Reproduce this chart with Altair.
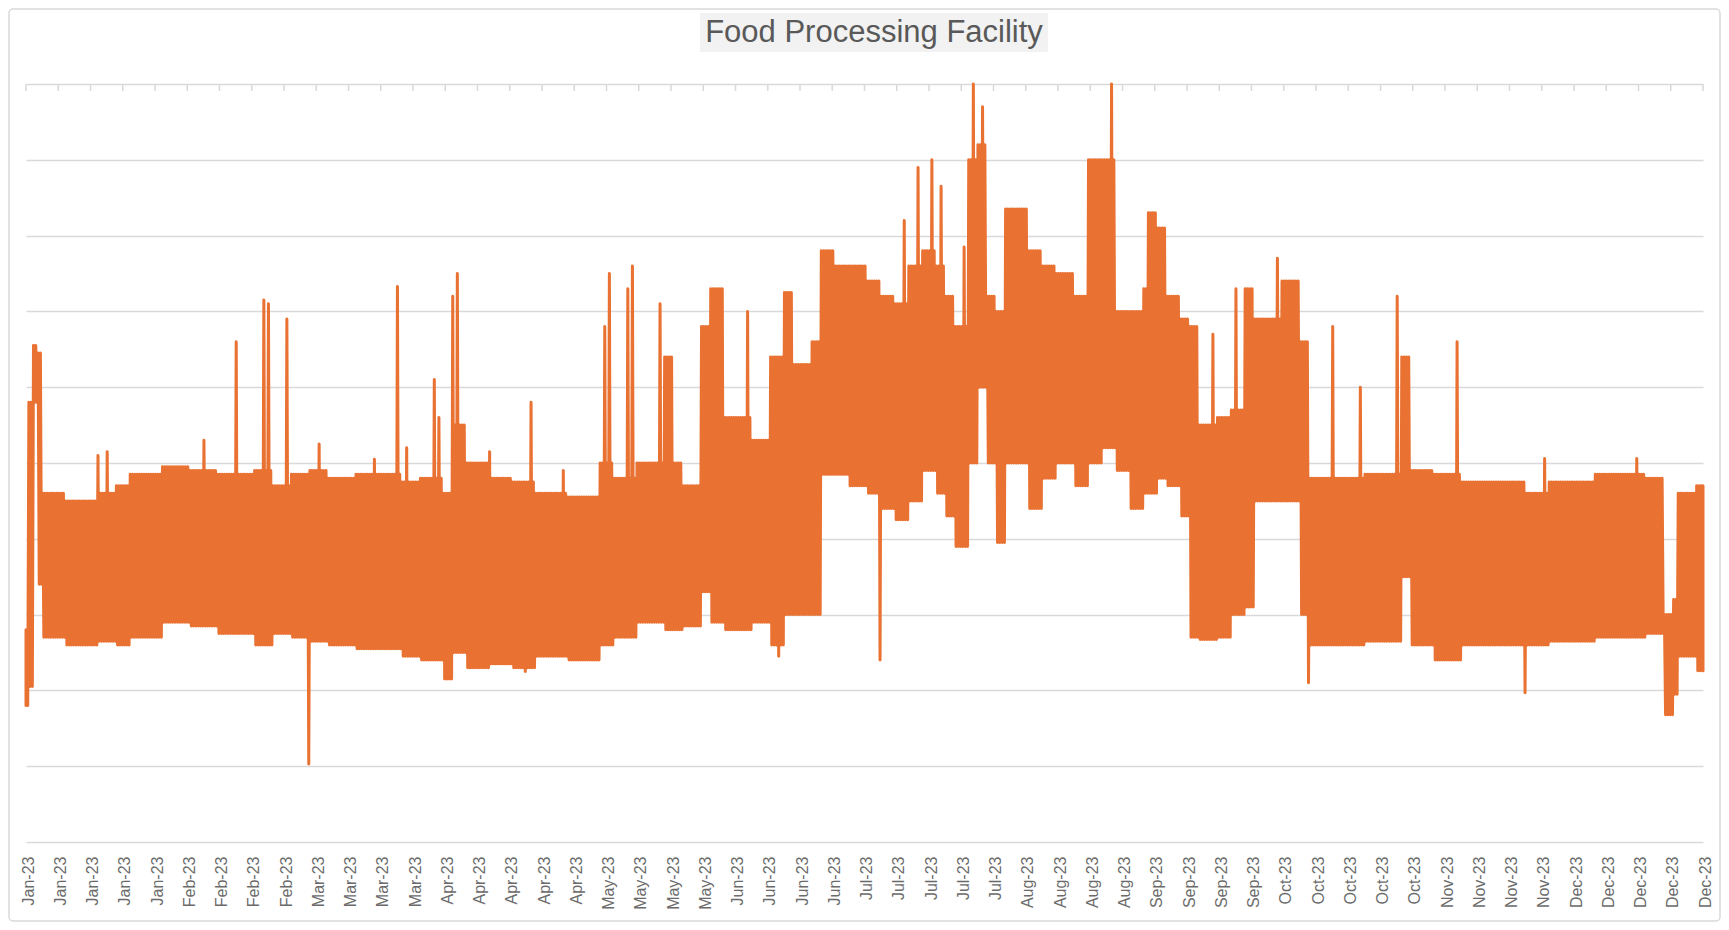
import json
import altair as alt
import pandas as pd

# ---- data (units: gridline steps, 0 = bottom line, 10 = top line) ----
# envelope segments: start day (0 = 1 Jan 2023), daily high, daily low
seg_day = [0, 1, 2, 3, 4, 9, 16, 20, 23, 30, 36, 42, 50, 54, 58, 62, 66, 72, 82, 86,
           91, 93, 96, 101, 106, 111, 118, 125, 128, 133, 139, 141, 143, 147, 149, 152,
           158, 162, 165, 167, 171, 173, 176, 179, 183, 186, 189, 192, 195, 198, 200,
           202, 205, 207, 209, 211, 213, 218, 221, 224, 228, 231, 234, 237, 240, 243,
           244, 246, 248, 251, 253, 255, 259, 262, 265, 267, 273, 277, 279, 286, 291,
           299, 301, 306, 312, 326, 331, 341, 352, 356, 358, 359, 363]
seg_hi = [2.8, 5.8, 6.55, 6.45, 4.6, 4.5, 4.6, 4.7, 4.85, 4.95, 4.9, 4.85, 4.9, 4.7,
          4.85, 4.9, 4.8, 4.85, 4.75, 4.8, 4.6, 5.5, 5.0, 4.8, 4.75, 4.6, 4.55, 5.0, 4.8,
          5.0, 6.4, 5.0, 4.7, 6.8, 7.3, 5.6, 5.3, 6.4, 7.25, 6.3, 6.6, 7.8, 7.6, 7.6,
          7.4, 7.2, 7.1, 7.6, 7.8, 7.6, 7.2, 6.8, 9.0, 9.2, 7.2, 7.0, 8.35, 7.8, 7.6,
          7.5, 7.2, 9.0, 9.0, 7.0, 7.0, 7.3, 8.3, 8.1, 7.2, 6.9, 6.8, 5.5, 5.6, 5.7,
          7.3, 6.9, 7.4, 6.6, 4.8, 4.8, 4.85, 6.4, 4.9, 4.85, 4.75, 4.6, 4.75, 4.85,
          4.8, 3.0, 3.2, 4.6, 4.7]
seg_lo = [1.8, 2.05, 5.8, 3.4, 2.7, 2.6, 2.65, 2.6, 2.7, 2.9, 2.85, 2.75, 2.6, 2.75,
          2.7, 2.65, 2.6, 2.55, 2.45, 2.4, 2.15, 2.5, 2.3, 2.35, 2.3, 2.45, 2.4, 2.6,
          2.7, 2.9, 2.8, 2.8, 2.85, 3.3, 2.9, 2.8, 2.9, 2.6, 3.0, 3.0, 3.0, 4.85, 4.85,
          4.7, 4.6, 4.4, 4.25, 4.5, 4.9, 4.6, 4.3, 3.9, 5.0, 6.0, 5.0, 3.95, 5.0, 4.4,
          4.8, 5.0, 4.7, 5.0, 5.2, 4.9, 4.4, 4.6, 4.6, 4.8, 4.7, 4.3, 2.7, 2.67, 2.7,
          3.0, 3.1, 4.5, 4.5, 3.0, 2.6, 2.6, 2.65, 3.5, 2.6, 2.4, 2.6, 2.6, 2.65, 2.7,
          2.75, 1.68, 1.95, 2.45, 2.26]
# single-day excursions
spike_day = [16, 18, 39, 46, 52, 53, 57, 61, 64, 76, 81, 83, 89, 90, 93, 94, 101, 108,
             110, 117, 126, 127, 131, 132, 138, 157, 163, 185, 191, 194, 197, 199, 204,
             206, 208, 236, 258, 263, 272, 278, 284, 290, 298, 311, 325, 330, 350]
spike_val = [5.1, 5.15, 5.3, 6.6, 7.15, 7.1, 6.9, 1.03, 5.25, 5.05, 7.33, 5.2, 6.1, 5.6,
             7.2, 7.5, 5.15, 2.25, 5.8, 4.9, 6.8, 7.5, 7.3, 7.6, 7.1, 7.0, 2.45, 2.4,
             8.2, 8.9, 9.0, 8.65, 7.85, 10.0, 9.7, 10.0, 6.7, 7.3, 7.7, 2.1, 6.8, 6.0,
             7.2, 6.6, 1.97, 5.06, 5.06]

tick_days = list(range(0, 365, 7))
tick_labels = (["Jan-23"] * 5 + ["Feb-23"] * 4 + ["Mar-23"] * 4 + ["Apr-23"] * 5 +
               ["May-23"] * 4 + ["Jun-23"] * 4 + ["Jul-23"] * 5 + ["Aug-23"] * 4 +
               ["Sep-23"] * 4 + ["Oct-23"] * 5 + ["Nov-23"] * 4 + ["Dec-23"] * 5)
grid_values = list(range(0, 11))
title_text = "Food Processing Facility"

# ---- build the swing series: two high/low swings per day ----
rows = []
for d in range(365):
    i = max(k for k, s in enumerate(seg_day) if s <= d)
    hi, lo = seg_hi[i], seg_lo[i]
    hi1, lo2 = hi, lo
    for sd, sv in zip(spike_day, spike_val):
        if sd == d:
            if sv > hi:
                hi1 = sv
            elif sv < lo:
                lo2 = sv
    for off, v in ((-0.375, hi1), (-0.125, lo), (0.125, hi), (0.375, lo2)):
        rows.append({"day": min(364.0, max(0.0, d + off)), "val": v})
df = pd.DataFrame(rows)
ticks_df = pd.DataFrame({"day": tick_days})

W, H = 1677, 758
GRID = "#d9d9d9"
TXT = "#595959"
LBL = "#6b6b6b"
FONT = "Liberation Sans"

label_expr = json.dumps(tick_labels) + "[round(datum.value / 7)]"
xscale = alt.Scale(domain=[0, 364], nice=False, zero=False)
xaxis = alt.Axis(values=tick_days, labelExpr=label_expr, labelAngle=-90,
                 labelFontSize=16, labelFont=FONT, labelColor=LBL, labelPadding=14,
                 labelOffset=2, ticks=False, domain=False, grid=False, title=None,
                 labelOverlap=False, labelFlush=False)
xenc = alt.X("day:Q", scale=xscale, axis=xaxis)

one = alt.Data(values=[{"k": 1}])

border = alt.Chart(one).mark_rect(filled=False, stroke=GRID, strokeWidth=1.5,
                                  cornerRadius=4).encode(
    x=alt.value(-17), x2=alt.value(W + 17), y=alt.value(-75), y2=alt.value(H + 79))

title_bg = alt.Chart(one).mark_rect(color="#f2f2f2").encode(
    x=alt.value(674), x2=alt.value(1022), y=alt.value(-71), y2=alt.value(-32))

title = alt.Chart(one).mark_text(text=title_text, font=FONT, fontSize=31, color=TXT,
                                 align="center", baseline="alphabetic").encode(
    x=alt.value(848), y=alt.value(-42))

tick_marks = alt.Chart(ticks_df).mark_rule(color=GRID, strokeWidth=1.5).encode(
    x=xenc, y=alt.value(0), y2=alt.value(7))

line = alt.Chart(df).mark_line(color="#E97132", strokeWidth=3, strokeJoin="round",
                               strokeCap="round").encode(
    x=xenc,
    y=alt.Y("val:Q", scale=alt.Scale(domain=[0, 10], nice=False, zero=False),
            axis=alt.Axis(values=grid_values, grid=True, gridColor=GRID, gridWidth=1.5,
                          labels=False, ticks=False, domain=False, title=None)))

chart = alt.layer(border, title_bg, title, tick_marks, line).properties(
    width=W, height=H,
    padding={"left": 18, "top": 76, "right": 18, "bottom": 80},
    autosize=alt.AutoSizeParams(type="none"),
    background="white",
).configure_view(stroke=None)

chart.save("out.html", embed_options={"renderer": "svg", "actions": False})
